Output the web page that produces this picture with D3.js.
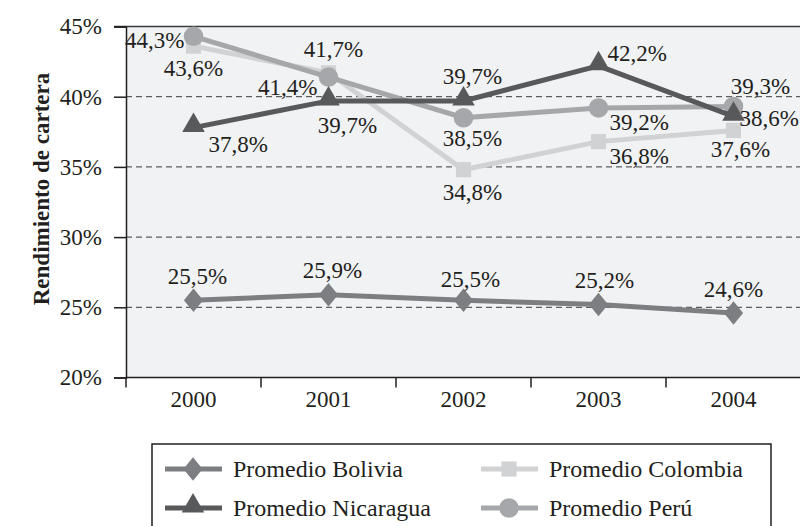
<!DOCTYPE html>
<html>
<head>
<meta charset="utf-8">
<script src="https://cdn.jsdelivr.net/npm/d3@7"></script>
<style>
  body { margin: 0; background: #fff; }
  svg { display: block; }
  svg text { font-family: "Liberation Serif", "DejaVu Serif", serif; }
</style>
</head>
<body>
<svg id="chart" width="800" height="526"></svg>
<script>
// chart data
var years = ["2000", "2001", "2002", "2003", "2004"];
var bolivia   = [25.5, 25.9, 25.5, 25.2, 24.6];
var colombia  = [43.6, 41.7, 34.8, 36.8, 37.6];
var nicaragua = [37.8, 39.7, 39.7, 42.2, 38.6];
var peru      = [44.3, 41.4, 38.5, 39.2, 39.3];
var yTicks = [20, 25, 30, 35, 40, 45];
var seriesNames = ["Promedio Bolivia", "Promedio Colombia", "Promedio Nicaragua", "Promedio Perú"];

// where each value label sits relative to its point: [dx, dy, anchor]
var labelPos = {
  bolivia:   [[4, -16, "middle"], [4, -17, "middle"], [7, -13, "middle"], [6, -16, "middle"], [0, -16, "middle"]],
  colombia:  [[0, 30, "middle"], [5, -16, "middle"], [9, 30, "middle"], [11, 22, "start"], [7, 27, "middle"]],
  nicaragua: [[15, 24, "start"], [19, 32, "middle"], [9, -17, "middle"], [9, -5, "start"], [6, 10, "start"]],
  peru:      [[-9, 12, "end"], [-11, 18, "end"], [9, 28, "middle"], [11, 22, "start"], [27, -13, "middle"]]
};

var svg = d3.select("#chart");
var textColor = "#231f20";
var serif = "Liberation Serif, DejaVu Serif, serif";

var x = d3.scaleBand().domain(years).range([126, 801]);
var y = d3.scaleLinear().domain([20, 45]).range([377.5, 26.5]);

// wide diamond like the original marker
var wideDiamond = {
  draw: function(ctx, size) {
    var h = Math.sqrt(size) * 0.85, w = h * 0.82;
    ctx.moveTo(0, -h); ctx.lineTo(w, 0); ctx.lineTo(0, h); ctx.lineTo(-w, 0); ctx.closePath();
  }
};

// plot background
svg.append("rect")
  .attr("x", 126).attr("y", y(45))
  .attr("width", 800 - 126).attr("height", y(20) - y(45))
  .attr("fill", "#f1f2f4");

// dashed grid
svg.append("g").selectAll("line")
  .data(yTicks.filter(function(d) { return d > 20 && d < 45; }))
  .enter().append("line")
    .attr("x1", 126).attr("x2", 800)
    .attr("y1", function(d) { return y(d); })
    .attr("y2", function(d) { return y(d); })
    .attr("stroke", "#3a3a3c").attr("stroke-width", 1)
    .attr("stroke-dasharray", "6,4");

// top border
svg.append("line")
  .attr("x1", 114).attr("x2", 800)
  .attr("y1", y(45)).attr("y2", y(45))
  .attr("stroke", "#3a3a3c").attr("stroke-width", 1.5);

// y axis
var yAxis = svg.append("g")
  .attr("transform", "translate(126,0)")
  .call(d3.axisLeft(y).tickValues(yTicks).tickSize(12).tickPadding(12)
    .tickFormat(function(d) { return d + "%"; }));
yAxis.attr("font-family", serif);
yAxis.select(".domain").attr("stroke", "#231f20").attr("stroke-width", 1.5);
yAxis.selectAll(".tick line").attr("stroke", "#231f20").attr("stroke-width", 1.5);
yAxis.selectAll(".tick text")
  .attr("fill", textColor).attr("font-family", serif).style("font-size", "23px");

// x axis with ticks at band boundaries
var xAxisG = svg.append("g").attr("transform", "translate(0," + y(20) + ")");
xAxisG.append("line")
  .attr("x1", 126).attr("x2", 800).attr("y1", 0).attr("y2", 0)
  .attr("stroke", "#231f20").attr("stroke-width", 1.5);
xAxisG.selectAll(".bound")
  .data(years.concat(["end"]))
  .enter().append("line")
    .attr("class", "bound")
    .attr("x1", function(d, i) { return 126 + i * x.bandwidth(); })
    .attr("x2", function(d, i) { return 126 + i * x.bandwidth(); })
    .attr("y1", 0).attr("y2", 10)
    .attr("stroke", "#231f20").attr("stroke-width", 1.5);
xAxisG.selectAll(".lbl")
  .data(years)
  .enter().append("text")
    .attr("x", function(d) { return x(d) + x.bandwidth() / 2; })
    .attr("y", 29)
    .attr("text-anchor", "middle")
    .attr("fill", textColor)
    .attr("font-family", serif)
    .style("font-size", "23px")
    .text(function(d) { return d; });

// y axis title
svg.append("text")
  .attr("transform", "translate(49,189) rotate(-90)")
  .attr("text-anchor", "middle")
  .attr("fill", textColor)
  .attr("font-family", serif)
  .style("font-size", "23px")
  .style("font-weight", "bold")
  .text("Rendimiento de cartera");

// series
var series = [
  { key: "bolivia",   values: bolivia,   color: "#7d7e82", shape: wideDiamond,      size: 190 },
  { key: "colombia",  values: colombia,  color: "#d1d2d4", shape: d3.symbolSquare,   size: 230 },
  { key: "peru",      values: peru,      color: "#a6a7aa", shape: d3.symbolCircle,   size: 300 },
  { key: "nicaragua", values: nicaragua, color: "#58595b", shape: d3.symbolTriangle, size: 220 }
];

var line = d3.line()
  .x(function(d, i) { return x(years[i]) + x.bandwidth() / 2; })
  .y(function(d) { return y(d); });

series.forEach(function(s) {
  var g = svg.append("g");
  g.append("path")
    .attr("d", line(s.values))
    .attr("fill", "none")
    .attr("stroke", s.color)
    .attr("stroke-width", 5);
  g.selectAll("path.mark")
    .data(s.values)
    .enter().append("path")
      .attr("class", "mark")
      .attr("d", d3.symbol().type(s.shape).size(s.size))
      .attr("transform", function(d, i) {
        var dy = s.shape === d3.symbolTriangle ? -2 : 0;
        return "translate(" + (x(years[i]) + x.bandwidth() / 2) + "," + (y(d) + dy) + ")";
      })
      .attr("fill", s.color);
});

// value labels on top
series.forEach(function(s) {
  svg.append("g").selectAll("text")
    .data(s.values)
    .enter().append("text")
      .attr("x", function(d, i) { return x(years[i]) + x.bandwidth() / 2 + labelPos[s.key][i][0]; })
      .attr("y", function(d, i) { return y(d) + labelPos[s.key][i][1]; })
      .attr("text-anchor", function(d, i) { return labelPos[s.key][i][2]; })
      .attr("fill", textColor)
      .attr("font-family", serif)
      .style("font-size", "23px")
      .text(function(d) { return d3.format(".1f")(d).replace(".", ",") + "%"; });
});

// legend
var legend = svg.append("g");
legend.append("rect")
  .attr("x", 152).attr("y", 444)
  .attr("width", 619).attr("height", 120)
  .attr("fill", "#fff")
  .attr("stroke", "#231f20").attr("stroke-width", 1.5);

var legendOrder = [
  { s: series[0], name: seriesNames[0], col: 0, row: 0 },
  { s: series[1], name: seriesNames[1], col: 1, row: 0 },
  { s: series[3], name: seriesNames[2], col: 0, row: 1 },
  { s: series[2], name: seriesNames[3], col: 1, row: 1 }
];
var colX = [165, 481];
var rowY = [469, 508];

legendOrder.forEach(function(item) {
  var lx = colX[item.col], ly = rowY[item.row];
  var g = legend.append("g");
  g.append("line")
    .attr("x1", lx).attr("x2", lx + 57)
    .attr("y1", ly).attr("y2", ly)
    .attr("stroke", item.s.color).attr("stroke-width", 5);
  g.append("path")
    .attr("d", d3.symbol().type(item.s.shape).size(item.s.size))
    .attr("transform", "translate(" + (lx + 28) + "," + (ly + (item.s.shape === d3.symbolTriangle ? -2 : 0)) + ")")
    .attr("fill", item.s.color);
  g.append("text")
    .attr("x", lx + 68).attr("y", ly + 8)
    .attr("fill", textColor)
    .attr("font-family", serif)
    .style("font-size", "24px")
    .text(item.name);
});
</script>
</body>
</html>
